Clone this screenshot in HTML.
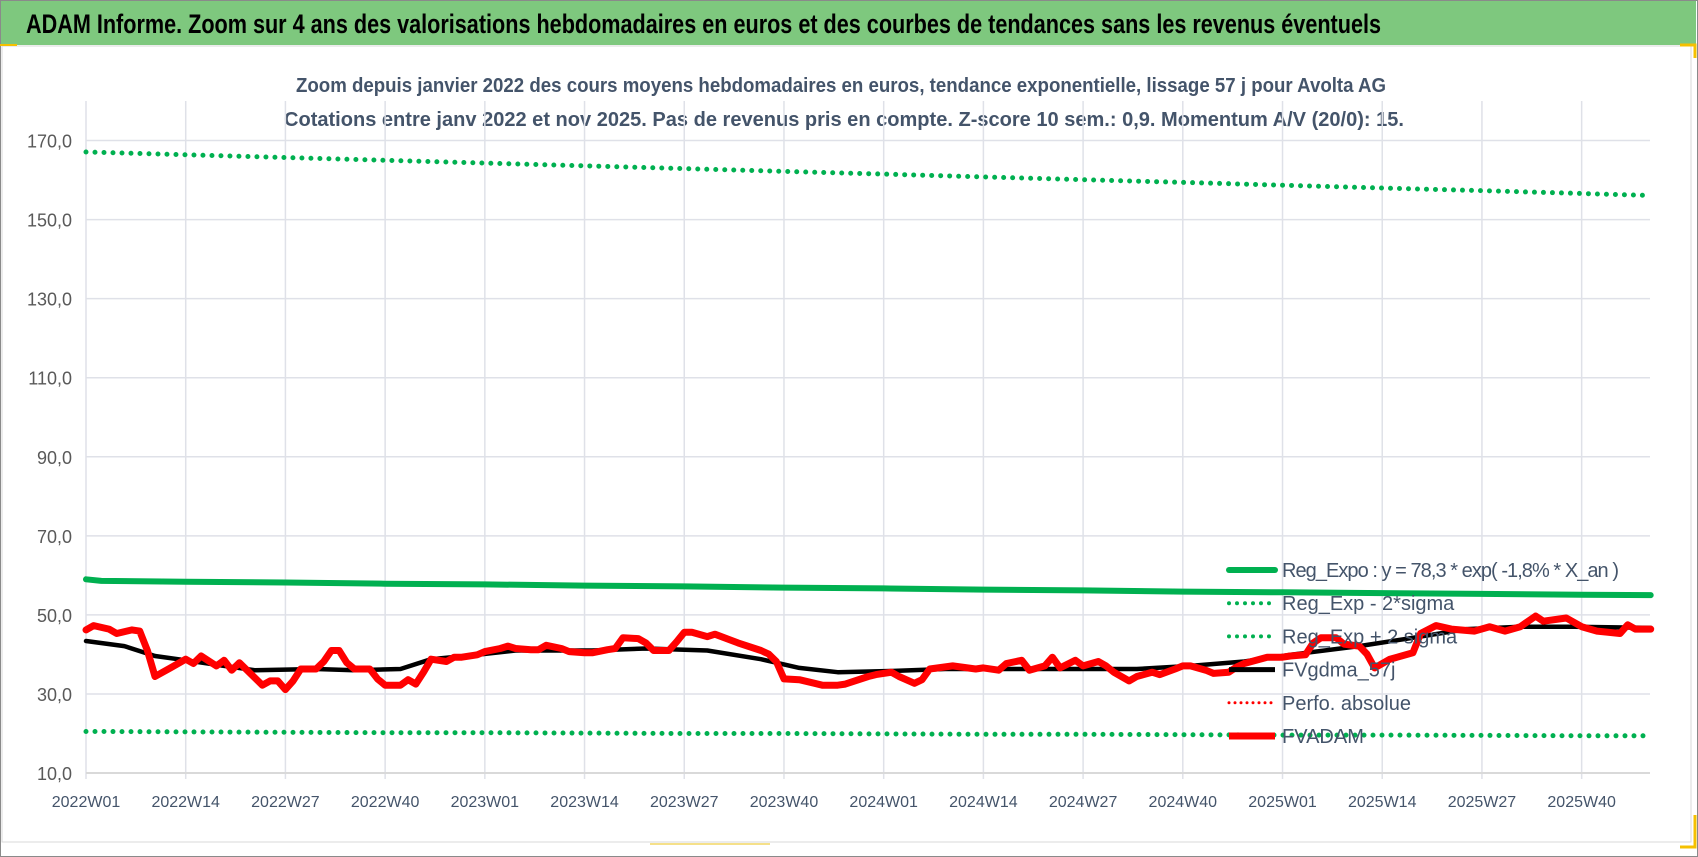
<!DOCTYPE html>
<html><head><meta charset="utf-8"><style>
html,body{margin:0;padding:0;background:#fff;}
svg{display:block;font-family:"Liberation Sans",sans-serif;}
</style></head><body>
<svg id="chart" width="1698" height="857" viewBox="0 0 1698 857">
<rect x="0.5" y="0.5" width="1697" height="856" fill="#fff" stroke="#8a8a8a"/>
<rect x="1" y="1" width="1695" height="44" fill="#7ec87e"/>
<text x="26" y="33" font-size="27" font-weight="bold" fill="#000" textLength="1355" lengthAdjust="spacingAndGlyphs">ADAM Informe. Zoom sur 4 ans des valorisations hebdomadaires en euros et des courbes de tendances sans les revenus éventuels</text>
<rect x="2" y="46" width="1689" height="796" fill="none" stroke="#d9d9d9"/>
<rect x="0" y="44" width="17" height="2" fill="#f5c000"/>
<path d="M1680 45 H1695 V58" fill="none" stroke="#f5c000" stroke-width="3"/>
<path d="M1680 847 H1695 V815" fill="none" stroke="#f5c000" stroke-width="3"/>
<rect x="650" y="843" width="120" height="2" fill="#f5e08a"/>
<text x="841" y="92" font-size="20" font-weight="bold" fill="#44546a" text-anchor="middle" textLength="1090" lengthAdjust="spacingAndGlyphs">Zoom depuis janvier 2022 des cours moyens hebdomadaires en euros, tendance exponentielle, lissage 57 j pour Avolta AG</text>
<text x="844" y="126" font-size="20" font-weight="bold" fill="#44546a" text-anchor="middle" textLength="1120" lengthAdjust="spacingAndGlyphs">Cotations entre janv 2022 et nov 2025. Pas de revenus pris en compte. Z-score 10 sem.: 0,9. Momentum A/V (20/0): 15.</text>
<g id="grid"></g>
<g id="axes"></g>
<g id="series"></g>
<g id="legend"></g>
</svg>
<script>
const xTickLabels=["2022W01","2022W14","2022W27","2022W40","2023W01","2023W14","2023W27","2023W40","2024W01","2024W14","2024W27","2024W40","2025W01","2025W14","2025W27","2025W40"];
const xTickWeeks=[0,13,26,39,52,65,78,91,104,117,130,143,156,169,182,195];
const yTicks=[10,30,50,70,90,110,130,150,170];
const yTickLabels=["10,0","30,0","50,0","70,0","90,0","110,0","130,0","150,0","170,0"];
const regWeeks=[0,2,13,26,39,52,65,78,91,104,117,130,143,156,169,182,195,204];
const regExpo=[59.0,58.6,58.4,58.2,57.9,57.7,57.4,57.2,56.9,56.7,56.4,56.2,55.9,55.7,55.5,55.3,55.1,55.0];
const regMinus=[20.5,20.5,20.4,20.3,20.2,20.2,20.1,20.0,20.0,19.9,19.8,19.8,19.7,19.6,19.6,19.5,19.4,19.4];
const regPlus=[167.1,167.0,166.4,165.7,165.0,164.3,163.6,162.9,162.2,161.5,160.8,160.1,159.4,158.7,158.0,157.3,156.6,156.1];
const smaWeeks=[0,5,9,12,18,22,30,35,41,45,51,56,66,73,81,88,93,98,105,112,123,137,144,151,157,166,173,180,187,194,204];
const smaValues=[43.4,42.1,39.6,38.8,37.1,36.0,36.3,36.0,36.3,38.8,39.9,41.0,41.0,41.5,41.0,38.8,36.6,35.5,35.8,36.3,36.3,36.3,37.1,38.2,39.9,42.1,44.2,46.4,47.0,47.0,46.7];
const priceWeeks=[0,1,3,4,6,7,8,9,11,13,14,15,17,18,19,20,21,23,24,25,26,27,28,30,31,32,33,34,35,37,38,39,41,42,43,44,45,47,48,49,51,52,54,55,56,58,59,60,62,63,65,66,68,69,70,72,73,74,76,77,78,79,81,82,85,88,89,90,91,93,95,96,98,99,102,103,105,106,108,109,110,113,116,117,119,120,122,123,125,126,127,129,130,132,133,134,136,137,139,140,142,143,144,146,147,149,150,151,154,156,157,159,160,161,163,164,166,167,168,170,173,174,176,178,181,183,185,187,189,190,193,195,197,200,201,202,204];
const priceValues=[46.2,47.3,46.4,45.3,46.2,45.9,41.0,34.4,36.6,38.8,37.7,39.6,37.1,38.5,36.0,37.9,36.0,32.2,33.3,33.3,31.1,33.3,36.3,36.3,38.2,41.0,41.0,37.9,36.3,36.3,33.8,32.2,32.2,33.6,32.5,35.5,38.8,38.2,39.3,39.3,39.9,40.7,41.5,42.1,41.5,41.2,41.2,42.3,41.5,40.7,40.4,40.4,41.2,41.5,44.2,44.0,42.9,41.0,41.0,43.2,45.6,45.6,44.5,45.1,42.9,41.0,40.1,38.2,33.8,33.6,32.7,32.2,32.2,32.5,34.4,34.9,35.5,34.4,32.7,33.6,36.3,37.1,36.3,36.6,36.0,37.7,38.5,36.0,37.1,39.3,36.6,38.5,37.1,38.2,37.1,35.5,33.3,34.4,35.5,34.9,36.3,37.1,37.1,36.0,35.2,35.5,36.8,37.7,39.3,39.3,39.6,39.9,42.9,44.2,44.2,42.6,42.1,40.1,36.6,38.8,40.4,45.3,47.3,46.4,45.9,47.0,45.9,47.0,49.7,48.4,49.2,47.0,45.9,45.3,47.5,46.4,46.4];
const legendLabels=["Reg_Expo : y = 78,3 * exp( -1,8% *  X_an )","Reg_Exp - 2*sigma","Reg_Exp + 2 sigma","FVgdma_57j","Perfo. absolue","FVADAM"];

const NS="http://www.w3.org/2000/svg";
const X0=86,PXW=7.67,Y10=773,PXU=3.953;
const xs=w=>X0+w*PXW;
const ys=v=>Y10-(v-10)*PXU;
function mk(tag,attrs,parent){const e=document.createElementNS(NS,tag);for(const k in attrs)e.setAttribute(k,attrs[k]);parent.appendChild(e);return e;}
const grid=document.getElementById('grid'),axes=document.getElementById('axes'),series=document.getElementById('series'),legend=document.getElementById('legend');
const plotRight=1650,plotTop=101;
yTicks.forEach((t,i)=>{
  if(i>0){const l=mk('line',{x1:X0,x2:plotRight,y1:ys(t),y2:ys(t),stroke:'#dfe1e8','stroke-width':1.5},grid);
  
  }
  const tx=mk('text',{x:72,y:ys(t)+7,'font-size':18,fill:'#595959','text-anchor':'end'},axes);
  tx.textContent=yTickLabels[i];
  
  
});
xTickWeeks.forEach((w,i)=>{
  const l=mk('line',{x1:xs(w),x2:xs(w),y1:plotTop,y2:779,stroke:'#dfe1e8','stroke-width':1.5},grid);
  
  
  const tx=mk('text',{x:xs(w),y:807,'font-size':16,fill:'#44546a','text-anchor':'middle'},axes);
  tx.textContent=xTickLabels[i];
  
  
});
const ax=mk('line',{x1:X0,x2:plotRight,y1:ys(10),y2:ys(10),stroke:'#d9d9d9','stroke-width':2},axes);


function pts(wk,vals){return wk.map((w,i)=>xs(w).toFixed(1)+','+ys(vals[i]).toFixed(1)).join(' ');}
const dotted={fill:'none',stroke:'#00b050','stroke-width':5,'stroke-linecap':'round','stroke-dasharray':'0 9'};
const p1=mk('polyline',Object.assign({points:pts(regWeeks,regPlus)},dotted),series);


const p2=mk('polyline',Object.assign({points:pts(regWeeks,regMinus)},dotted),series);


const p3=mk('polyline',{points:pts(regWeeks,regExpo),fill:'none',stroke:'#00b050','stroke-width':6,'stroke-linejoin':'round','stroke-linecap':'round'},series);


const p4=mk('polyline',{points:pts(smaWeeks,smaValues),fill:'none',stroke:'#000','stroke-width':4.5,'stroke-linejoin':'round','stroke-linecap':'round'},series);


const p5=mk('polyline',{points:pts(priceWeeks,priceValues),fill:'none',stroke:'#ff0000','stroke-width':7,'stroke-linejoin':'round','stroke-linecap':'round'},series);


const lstyles=[
 {stroke:'#00b050','stroke-width':6,'stroke-linecap':'round'},
 {stroke:'#00b050','stroke-width':4,'stroke-linecap':'round','stroke-dasharray':'0 8'},
 {stroke:'#00b050','stroke-width':4,'stroke-linecap':'round','stroke-dasharray':'0 8'},
 {stroke:'#000','stroke-width':5},
 {stroke:'#ff0000','stroke-width':3,'stroke-linecap':'round','stroke-dasharray':'0 6'},
 {stroke:'#ff0000','stroke-width':7}];
legendLabels.forEach((lab,i)=>{
  const y=570+i*33.2;
  const g=mk('g',{},legend);
  
  
  mk('line',Object.assign({x1:1229,x2:1275,y1:y,y2:y},lstyles[i]),g);
  const t=mk('text',{x:1282,y:y+7,'font-size':20,fill:'#44546a'},g);
  t.textContent=lab;
  if(i===0)t.setAttribute('textLength','337');
});
</script>
</body></html>
